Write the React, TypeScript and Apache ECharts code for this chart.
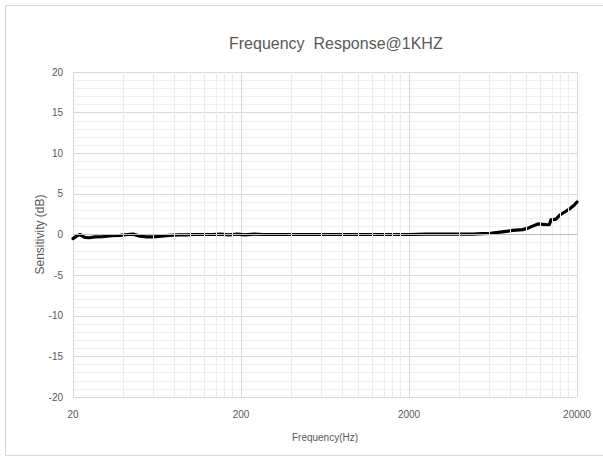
import React, { useEffect, useRef } from "react";
import * as echarts from "echarts";

const freqs = [20, 21, 22, 23.5, 25, 27, 30, 34, 38, 42, 45.5, 50, 55, 60, 67, 75, 85, 95, 105, 120, 136, 150, 170, 190, 210, 240, 270, 300, 350, 400, 500, 600, 700, 800, 1000, 1200, 1500, 2000, 2500, 3000, 3500, 4000, 4800, 5500, 6100, 7000, 8300, 9500, 10100, 10800, 11700, 12500, 13400, 13700, 14000, 15000, 15800, 17000, 18200, 19200, 20000];
const sensitivity = [-0.5, -0.2, 0, -0.35, -0.4, -0.3, -0.25, -0.15, -0.1, 0, 0.05, -0.2, -0.3, -0.3, -0.2, -0.1, -0.05, -0.05, 0, 0, 0, 0.05, -0.05, 0.05, -0.05, 0.05, 0, 0, 0, 0, 0, 0, 0, 0, 0, 0, 0, 0, 0.05, 0.05, 0.05, 0.05, 0.05, 0.1, 0.15, 0.3, 0.5, 0.6, 0.75, 1.0, 1.3, 1.25, 1.2, 1.25, 1.8, 1.9, 2.4, 2.8, 3.2, 3.6, 4.0];
const xTickLabels = ["20", "200", "2000", "20000"];
const minorFreqs = [40, 60, 80, 100, 120, 140, 160, 180, 400, 600, 800, 1000, 1200, 1400, 1600, 1800, 4000, 6000, 8000, 10000, 12000, 14000, 16000, 18000];
const baseFreq = 20;
const yMin = -20;
const yMax = 20;
const yInterval = 5;

const toPos = (f: number) => Math.log10(f / baseFreq);

export default function App() {
  const ref = useRef<HTMLDivElement>(null);
  useEffect(() => {
    if (!ref.current) return;
    const chart = echarts.init(ref.current, undefined, { renderer: "svg" });
    const font = "'Liberation Sans', Arial, sans-serif";
    chart.setOption({
      animation: false,
      backgroundColor: "#ffffff",
      textStyle: { fontFamily: font },
      title: {
        text: "Frequency  Response@1KHZ",
        left: 224,
        top: 30,
        textStyle: { fontSize: 16, fontWeight: "normal", color: "#595959", fontFamily: font },
      },
      graphic: [
        {
          type: "rect",
          shape: { x: 5.5, y: 5.5, width: 620, height: 450 },
          style: { fill: "none", stroke: "#d9d9d9", lineWidth: 1 },
          silent: true,
        },
      ],
      grid: { left: 73, right: 26, top: 72, bottom: 60 },
      xAxis: {
        type: "value",
        min: 0,
        max: 3,
        interval: 1,
        name: "Frequency(Hz)",
        nameLocation: "middle",
        nameGap: 35,
        nameMoveOverlap: false,
        nameTextStyle: { fontSize: 10, color: "#595959" },
        axisLine: { show: false },
        axisTick: { show: false },
        axisLabel: {
          fontSize: 10,
          color: "#595959",
          margin: 12,
          formatter: (v: number) => xTickLabels[Math.round(v)] ?? "",
        },
        splitLine: { show: true, lineStyle: { color: "#d9d9d9", width: 1 } },
      },
      yAxis: {
        type: "value",
        min: yMin,
        max: yMax,
        interval: yInterval,
        name: "Sensitivity (dB)",
        nameLocation: "middle",
        nameRotate: 90,
        nameGap: 27,
        nameMoveOverlap: false,
        nameTextStyle: { fontSize: 12, color: "#595959" },
        axisLine: { show: false },
        axisTick: { show: false },
        axisLabel: { fontSize: 10, color: "#595959", margin: 10 },
        splitLine: { show: true, lineStyle: { color: "#d9d9d9", width: 1 } },
        minorTick: { show: false, splitNumber: 5 },
        minorSplitLine: { show: true, lineStyle: { color: "#f0f0f0", width: 1 } },
      },
      series: [
        {
          type: "line",
          data: [],
          silent: true,
          z: 1,
          markLine: {
            silent: true,
            symbol: "none",
            label: { show: false },
            animation: false,
            data: [
              ...minorFreqs.map((f) => ({
                xAxis: toPos(f),
                lineStyle: { color: "#ececec", width: 1, type: "solid" },
              })),
              { yAxis: 0, lineStyle: { color: "#bfbfbf", width: 1, type: "solid" } },
            ],
          },
        },
        {
          type: "line",
          z: 3,
          showSymbol: false,
          symbol: "none",
          smooth: false,
          lineStyle: { color: "#000000", width: 3.2, cap: "round", join: "round" },
          data: freqs.map((f, i) => [toPos(f), sensitivity[i]]),
        },
      ],
    });
    return () => chart.dispose();
  }, []);
  return (
    <div
      ref={ref}
      style={{ position: "absolute", left: 0, top: 0, width: 603, height: 457 }}
    />
  );
}
